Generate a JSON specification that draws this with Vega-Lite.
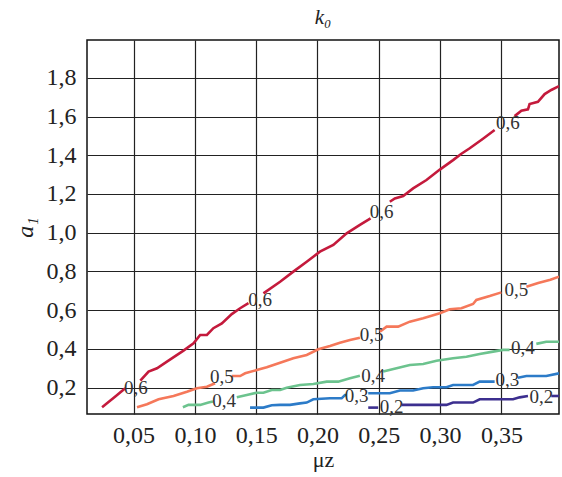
{
  "$schema": "https://vega.github.io/schema/vega-lite/v6.json",
  "autosize": "none",
  "width": 472,
  "height": 374,
  "padding": {"left": 87, "top": 40, "right": 3, "bottom": 63},
  "background": "white",
  "config": {
    "font": "Liberation Serif",
    "view": {"stroke": "#111", "strokeWidth": 1.5},
    "axis": {
      "labelFont": "Liberation Serif",
      "titleFont": "Liberation Serif",
      "labelFontSize": 24,
      "titleFontSize": 24,
      "labelColor": "#222",
      "titleColor": "#222",
      "gridColor": "#222",
      "gridOpacity": 1,
      "gridWidth": 1.2,
      "domain": false,
      "ticks": false,
      "titleFontWeight": "normal"
    }
  },
  "title": {
    "text": "k₀",
    "font": "Liberation Serif",
    "fontSize": 21,
    "fontStyle": "italic",
    "fontWeight": "normal",
    "color": "#222",
    "anchor": "middle",
    "baseline": "alphabetic",
    "offset": 16,
    "dy": 21
  },
  "datasets": {
    "lines": [
      {"k": "0,6", "s": "r1", "x": 0.0243, "y": 0.099},
      {"k": "0,6", "s": "r1", "x": 0.0283, "y": 0.119},
      {"k": "0,6", "s": "r1", "x": 0.0351, "y": 0.154},
      {"k": "0,6", "s": "r1", "x": 0.0432, "y": 0.197},
      {"k": "0,6", "s": "r2", "x": 0.0555, "y": 0.236},
      {"k": "0,6", "s": "r2", "x": 0.0622, "y": 0.283},
      {"k": "0,6", "s": "r2", "x": 0.0691, "y": 0.300},
      {"k": "0,6", "s": "r2", "x": 0.0772, "y": 0.334},
      {"k": "0,6", "s": "r2", "x": 0.0907, "y": 0.391},
      {"k": "0,6", "s": "r2", "x": 0.0989, "y": 0.429},
      {"k": "0,6", "s": "r2", "x": 0.1043, "y": 0.472},
      {"k": "0,6", "s": "r2", "x": 0.1098, "y": 0.472},
      {"k": "0,6", "s": "r2", "x": 0.1151, "y": 0.507},
      {"k": "0,6", "s": "r2", "x": 0.1220, "y": 0.532},
      {"k": "0,6", "s": "r2", "x": 0.1301, "y": 0.580},
      {"k": "0,6", "s": "r2", "x": 0.1369, "y": 0.610},
      {"k": "0,6", "s": "r2", "x": 0.1437, "y": 0.636},
      {"k": "0,6", "s": "r3", "x": 0.1559, "y": 0.687},
      {"k": "0,6", "s": "r3", "x": 0.1695, "y": 0.747},
      {"k": "0,6", "s": "r3", "x": 0.1803, "y": 0.799},
      {"k": "0,6", "s": "r3", "x": 0.1912, "y": 0.850},
      {"k": "0,6", "s": "r3", "x": 0.2020, "y": 0.902},
      {"k": "0,6", "s": "r3", "x": 0.2129, "y": 0.937},
      {"k": "0,6", "s": "r3", "x": 0.2238, "y": 0.997},
      {"k": "0,6", "s": "r3", "x": 0.2346, "y": 1.040},
      {"k": "0,6", "s": "r3", "x": 0.2433, "y": 1.074},
      {"k": "0,6", "s": "r4", "x": 0.2590, "y": 1.160},
      {"k": "0,6", "s": "r4", "x": 0.2631, "y": 1.177},
      {"k": "0,6", "s": "r4", "x": 0.2699, "y": 1.189},
      {"k": "0,6", "s": "r4", "x": 0.2780, "y": 1.229},
      {"k": "0,6", "s": "r4", "x": 0.2889, "y": 1.272},
      {"k": "0,6", "s": "r4", "x": 0.2998, "y": 1.326},
      {"k": "0,6", "s": "r4", "x": 0.3106, "y": 1.375},
      {"k": "0,6", "s": "r4", "x": 0.3174, "y": 1.408},
      {"k": "0,6", "s": "r4", "x": 0.3242, "y": 1.436},
      {"k": "0,6", "s": "r4", "x": 0.3350, "y": 1.485},
      {"k": "0,6", "s": "r4", "x": 0.3445, "y": 1.530},
      {"k": "0,6", "s": "r5", "x": 0.3608, "y": 1.602},
      {"k": "0,6", "s": "r5", "x": 0.3663, "y": 1.630},
      {"k": "0,6", "s": "r5", "x": 0.3717, "y": 1.637},
      {"k": "0,6", "s": "r5", "x": 0.3730, "y": 1.664},
      {"k": "0,6", "s": "r5", "x": 0.3798, "y": 1.676},
      {"k": "0,6", "s": "r5", "x": 0.3853, "y": 1.716},
      {"k": "0,6", "s": "r5", "x": 0.3907, "y": 1.737},
      {"k": "0,6", "s": "r5", "x": 0.3970, "y": 1.757},
      {"k": "0,5", "s": "o1", "x": 0.0528, "y": 0.099},
      {"k": "0,5", "s": "o1", "x": 0.0609, "y": 0.114},
      {"k": "0,5", "s": "o1", "x": 0.0704, "y": 0.140},
      {"k": "0,5", "s": "o1", "x": 0.0826, "y": 0.157},
      {"k": "0,5", "s": "o1", "x": 0.0935, "y": 0.179},
      {"k": "0,5", "s": "o1", "x": 0.1016, "y": 0.197},
      {"k": "0,5", "s": "o1", "x": 0.1098, "y": 0.205},
      {"k": "0,5", "s": "o1", "x": 0.1165, "y": 0.223},
      {"k": "0,5", "s": "o2", "x": 0.1301, "y": 0.260},
      {"k": "0,5", "s": "o2", "x": 0.1369, "y": 0.260},
      {"k": "0,5", "s": "o2", "x": 0.1410, "y": 0.274},
      {"k": "0,5", "s": "o2", "x": 0.1505, "y": 0.291},
      {"k": "0,5", "s": "o2", "x": 0.1586, "y": 0.305},
      {"k": "0,5", "s": "o2", "x": 0.1695, "y": 0.329},
      {"k": "0,5", "s": "o2", "x": 0.1803, "y": 0.352},
      {"k": "0,5", "s": "o2", "x": 0.1912, "y": 0.369},
      {"k": "0,5", "s": "o2", "x": 0.2007, "y": 0.398},
      {"k": "0,5", "s": "o2", "x": 0.2102, "y": 0.415},
      {"k": "0,5", "s": "o2", "x": 0.2183, "y": 0.432},
      {"k": "0,5", "s": "o2", "x": 0.2265, "y": 0.446},
      {"k": "0,5", "s": "o2", "x": 0.2346, "y": 0.458},
      {"k": "0,5", "s": "o3", "x": 0.2509, "y": 0.489},
      {"k": "0,5", "s": "o3", "x": 0.2564, "y": 0.515},
      {"k": "0,5", "s": "o3", "x": 0.2658, "y": 0.515},
      {"k": "0,5", "s": "o3", "x": 0.2753, "y": 0.541},
      {"k": "0,5", "s": "o3", "x": 0.2862, "y": 0.558},
      {"k": "0,5", "s": "o3", "x": 0.2998, "y": 0.584},
      {"k": "0,5", "s": "o3", "x": 0.3079, "y": 0.605},
      {"k": "0,5", "s": "o3", "x": 0.3174, "y": 0.610},
      {"k": "0,5", "s": "o3", "x": 0.3269, "y": 0.632},
      {"k": "0,5", "s": "o3", "x": 0.3296, "y": 0.653},
      {"k": "0,5", "s": "o3", "x": 0.3405, "y": 0.673},
      {"k": "0,5", "s": "o3", "x": 0.3500, "y": 0.692},
      {"k": "0,5", "s": "o4", "x": 0.3704, "y": 0.721},
      {"k": "0,5", "s": "o4", "x": 0.3800, "y": 0.740},
      {"k": "0,5", "s": "o4", "x": 0.3900, "y": 0.757},
      {"k": "0,5", "s": "o4", "x": 0.3970, "y": 0.773},
      {"k": "0,4", "s": "g1", "x": 0.0902, "y": 0.099},
      {"k": "0,4", "s": "g1", "x": 0.0948, "y": 0.111},
      {"k": "0,4", "s": "g1", "x": 0.1043, "y": 0.111},
      {"k": "0,4", "s": "g1", "x": 0.1111, "y": 0.123},
      {"k": "0,4", "s": "g1", "x": 0.1147, "y": 0.128},
      {"k": "0,4", "s": "g2", "x": 0.1342, "y": 0.150},
      {"k": "0,4", "s": "g2", "x": 0.1423, "y": 0.162},
      {"k": "0,4", "s": "g2", "x": 0.1505, "y": 0.174},
      {"k": "0,4", "s": "g2", "x": 0.1559, "y": 0.174},
      {"k": "0,4", "s": "g2", "x": 0.1627, "y": 0.188},
      {"k": "0,4", "s": "g2", "x": 0.1695, "y": 0.188},
      {"k": "0,4", "s": "g2", "x": 0.1749, "y": 0.200},
      {"k": "0,4", "s": "g2", "x": 0.1857, "y": 0.214},
      {"k": "0,4", "s": "g2", "x": 0.1966, "y": 0.219},
      {"k": "0,4", "s": "g2", "x": 0.2075, "y": 0.231},
      {"k": "0,4", "s": "g2", "x": 0.2169, "y": 0.231},
      {"k": "0,4", "s": "g2", "x": 0.2265, "y": 0.249},
      {"k": "0,4", "s": "g2", "x": 0.2346, "y": 0.261},
      {"k": "0,4", "s": "g3", "x": 0.2536, "y": 0.283},
      {"k": "0,4", "s": "g3", "x": 0.2645, "y": 0.300},
      {"k": "0,4", "s": "g3", "x": 0.2753, "y": 0.317},
      {"k": "0,4", "s": "g3", "x": 0.2862, "y": 0.322},
      {"k": "0,4", "s": "g3", "x": 0.2971, "y": 0.339},
      {"k": "0,4", "s": "g3", "x": 0.3106, "y": 0.352},
      {"k": "0,4", "s": "g3", "x": 0.3215, "y": 0.360},
      {"k": "0,4", "s": "g3", "x": 0.3323, "y": 0.374},
      {"k": "0,4", "s": "g3", "x": 0.3432, "y": 0.386},
      {"k": "0,4", "s": "g3", "x": 0.3513, "y": 0.395},
      {"k": "0,4", "s": "g3", "x": 0.3567, "y": 0.395},
      {"k": "0,4", "s": "g4", "x": 0.3785, "y": 0.426},
      {"k": "0,4", "s": "g4", "x": 0.3866, "y": 0.437},
      {"k": "0,4", "s": "g4", "x": 0.3970, "y": 0.437},
      {"k": "0,3", "s": "b1", "x": 0.1450, "y": 0.097},
      {"k": "0,3", "s": "b1", "x": 0.1559, "y": 0.097},
      {"k": "0,3", "s": "b1", "x": 0.1627, "y": 0.109},
      {"k": "0,3", "s": "b1", "x": 0.1695, "y": 0.111},
      {"k": "0,3", "s": "b1", "x": 0.1776, "y": 0.111},
      {"k": "0,3", "s": "b1", "x": 0.1857, "y": 0.119},
      {"k": "0,3", "s": "b1", "x": 0.1912, "y": 0.123},
      {"k": "0,3", "s": "b1", "x": 0.1966, "y": 0.140},
      {"k": "0,3", "s": "b1", "x": 0.2102, "y": 0.145},
      {"k": "0,3", "s": "b1", "x": 0.2197, "y": 0.145},
      {"k": "0,3", "s": "b1", "x": 0.2224, "y": 0.162},
      {"k": "0,3", "s": "b1", "x": 0.2240, "y": 0.162},
      {"k": "0,3", "s": "b2", "x": 0.2414, "y": 0.171},
      {"k": "0,3", "s": "b2", "x": 0.2590, "y": 0.171},
      {"k": "0,3", "s": "b2", "x": 0.2672, "y": 0.185},
      {"k": "0,3", "s": "b2", "x": 0.2780, "y": 0.185},
      {"k": "0,3", "s": "b2", "x": 0.2862, "y": 0.197},
      {"k": "0,3", "s": "b2", "x": 0.2943, "y": 0.202},
      {"k": "0,3", "s": "b2", "x": 0.3052, "y": 0.202},
      {"k": "0,3", "s": "b2", "x": 0.3106, "y": 0.214},
      {"k": "0,3", "s": "b2", "x": 0.3269, "y": 0.214},
      {"k": "0,3", "s": "b2", "x": 0.3323, "y": 0.231},
      {"k": "0,3", "s": "b2", "x": 0.3445, "y": 0.231},
      {"k": "0,3", "s": "b3", "x": 0.3635, "y": 0.251},
      {"k": "0,3", "s": "b3", "x": 0.3704, "y": 0.260},
      {"k": "0,3", "s": "b3", "x": 0.3866, "y": 0.260},
      {"k": "0,3", "s": "b3", "x": 0.3970, "y": 0.274},
      {"k": "0,2", "s": "p1", "x": 0.2414, "y": 0.097},
      {"k": "0,2", "s": "p1", "x": 0.2495, "y": 0.097},
      {"k": "0,2", "s": "p2", "x": 0.2686, "y": 0.111},
      {"k": "0,2", "s": "p2", "x": 0.3052, "y": 0.111},
      {"k": "0,2", "s": "p2", "x": 0.3106, "y": 0.123},
      {"k": "0,2", "s": "p2", "x": 0.3269, "y": 0.123},
      {"k": "0,2", "s": "p2", "x": 0.3323, "y": 0.140},
      {"k": "0,2", "s": "p2", "x": 0.3595, "y": 0.140},
      {"k": "0,2", "s": "p2", "x": 0.3649, "y": 0.150},
      {"k": "0,2", "s": "p2", "x": 0.3717, "y": 0.157},
      {"k": "0,2", "s": "p3", "x": 0.3907, "y": 0.157},
      {"k": "0,2", "s": "p3", "x": 0.3970, "y": 0.157}
    ],
    "labels": [
      {"k": "0,6", "x": 0.0518, "y": 0.197},
      {"k": "0,6", "x": 0.1532, "y": 0.653},
      {"k": "0,6", "x": 0.2523, "y": 1.108},
      {"k": "0,6", "x": 0.3554, "y": 1.565},
      {"k": "0,5", "x": 0.1220, "y": 0.254},
      {"k": "0,5", "x": 0.2441, "y": 0.472},
      {"k": "0,5", "x": 0.3622, "y": 0.704},
      {"k": "0,4", "x": 0.1239, "y": 0.131},
      {"k": "0,4", "x": 0.2454, "y": 0.261},
      {"k": "0,4", "x": 0.3676, "y": 0.403},
      {"k": "0,3", "x": 0.2319, "y": 0.157},
      {"k": "0,3", "x": 0.3549, "y": 0.239},
      {"k": "0,2", "x": 0.2604, "y": 0.102},
      {"k": "0,2", "x": 0.3826, "y": 0.154}
    ]
  },
  "encoding": {
    "x": {
      "field": "x",
      "type": "quantitative",
      "scale": {"domain": [0.012, 0.397], "nice": false, "zero": false},
      "axis": {
        "title": "μz",
        "values": [0.05, 0.1, 0.15, 0.2, 0.25, 0.3, 0.35],
        "labelExpr": "replace(format(datum.value, '.2f'), '.', ',')",
        "labelPadding": 9,
        "titleX": 236,
        "titleY": 52,
        "titleAlign": "center",
        "titleBaseline": "alphabetic",
        "titleFontSize": 22
      }
    },
    "y": {
      "field": "y",
      "type": "quantitative",
      "scale": {"domain": [0.064, 1.995], "nice": false, "zero": false},
      "axis": {
        "title": "a₁",
        "titleFontStyle": "italic",
        "values": [0.2, 0.4, 0.6, 0.8, 1.0, 1.2, 1.4, 1.6, 1.8],
        "labelExpr": "replace(format(datum.value, '.1f'), '.', ',')",
        "labelPadding": 11,
        "titleAngle": -90,
        "titleX": -55,
        "titleY": 187,
        "titleAlign": "center",
        "titleBaseline": "alphabetic"
      }
    }
  },
  "layer": [
    {
      "data": {"name": "lines"},
      "mark": {"type": "line", "strokeWidth": 2.6, "clip": true, "interpolate": "linear"},
      "encoding": {
        "detail": {"field": "s", "type": "nominal"},
        "color": {
          "field": "k",
          "type": "nominal",
          "scale": {
            "domain": ["0,6", "0,5", "0,4", "0,3", "0,2"],
            "range": ["#c41a3c", "#f5785a", "#6cc38e", "#2c7bc8", "#3c2f8f"]
          },
          "legend": null
        }
      }
    },
    {
      "data": {"name": "labels"},
      "mark": {
        "type": "text",
        "font": "Liberation Serif",
        "fontSize": 19,
        "color": "#333",
        "align": "center",
        "baseline": "middle"
      },
      "encoding": {
        "text": {"field": "k", "type": "nominal"}
      }
    }
  ]
}
